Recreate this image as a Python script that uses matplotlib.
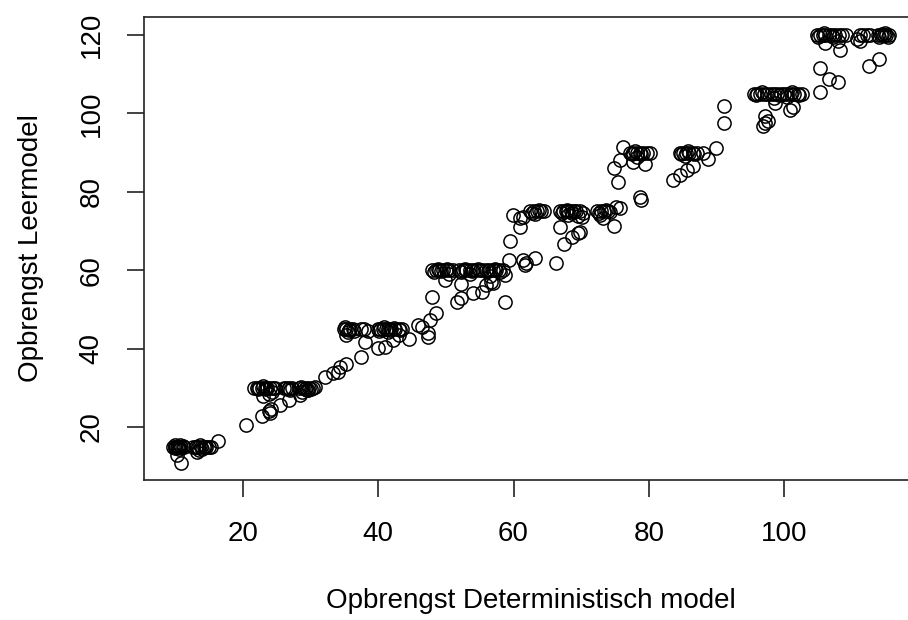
"""
Scatter of yield: deterministic model vs. learning model (R base-graphics look).
Saves out.png (908x620).
"""

import matplotlib
matplotlib.use("Agg")
import matplotlib.pyplot as plt

OUTPUT_PATH = "out.png"

# Opbrengst Deterministisch model (x) and Opbrengst Leermodel (y)
det_model = [
    # ~15
    9.6, 9.9, 10.2, 10.5, 10.8, 11.1, 10.0, 10.6, 11.3, 10.2, 10.9,
    12.6, 13.0, 13.4, 13.8, 14.2, 14.6, 15.0, 15.3, 13.2, 13.5, 14.0, 16.3,
    10.0, 10.4, 10.7, 13.1, 13.7, 14.4,
    20.4,
    # ~30
    21.6, 22.0, 22.4, 22.8, 23.2, 23.6, 24.0, 24.4, 24.7, 23.0, 23.8, 24.3,
    26.0, 26.4, 26.8, 27.2, 27.0,
    28.3, 28.8, 29.3, 29.8, 30.3, 30.6, 28.7, 29.5,
    22.2, 23.0, 23.4, 26.6, 28.6, 29.1, 30.0,
    22.8, 23.8, 24.2, 24.0, 25.5, 26.8, 28.4, 29.6, 32.1, 33.3, 34.0, 34.4, 35.3, 37.4,
    # ~45
    34.9, 35.3, 35.8, 36.2, 35.5, 35.3, 36.4, 37.4, 37.9, 38.5, 38.0,
    39.9, 40.3, 40.7, 41.1, 41.5, 41.9, 42.5, 43.0, 43.5, 40.0, 41.0, 42.2, 43.0, 41.5, 44.6,
    35.1, 35.6, 40.1, 40.9, 41.7, 42.3, 43.2,
    45.9, 46.4, 47.4, 47.4, 47.7, 48.6, 47.9,
    # ~60
    48.0, 48.5, 49.0, 49.5, 50.0, 50.5, 51.0, 49.9, 50.5,
    52.0, 52.5, 53.0, 53.5, 54.0, 54.5, 55.0, 55.4, 52.3, 53.5,
    55.9, 56.4, 56.9, 57.4, 57.9, 58.4, 57.0, 58.7, 56.5,
    48.3, 48.8, 49.3, 50.2, 52.3, 52.8, 53.8, 54.8, 56.2, 57.2, 58.0,
    51.6, 52.2, 54.0, 55.3, 56.0, 56.6, 58.8, 59.3, 59.5,
    # ~75
    59.9, 61.0, 61.0, 61.4, 62.5, 63.0, 63.5, 64.0, 64.5, 63.2,
    61.4, 61.7, 61.9, 63.2, 66.3,
    66.9, 67.3, 67.7, 68.1, 68.5, 68.9, 69.3, 69.8, 70.3, 68.0, 69.5,
    62.8, 63.7, 67.1, 67.9, 68.7, 72.6, 73.6,
    66.9, 67.4, 68.6, 69.8, 70.1, 69.5,
    72.4, 72.9, 73.4, 73.9, 74.3, 73.2, 72.8, 74.9, 75.2, 75.7, 78.7, 78.9,
    # ~90
    76.2, 75.7, 74.9, 75.5,
    77.2, 77.7, 78.2, 78.7, 79.2, 79.7, 80.2, 77.7, 79.4, 78.3,
    84.6, 85.0, 85.5, 86.0, 86.5, 87.1, 85.3,
    77.5, 78.0, 78.9, 84.8, 85.8, 86.7,
    83.6, 84.6, 85.6, 86.6, 88.0, 88.7, 90.0,
    # ~105
    91.1, 91.1,
    95.6, 96.0, 96.5, 97.0, 97.5, 98.0, 98.5, 99.0, 99.5, 100.0, 100.5, 101.0,
    101.5, 102.0, 102.7, 98.5, 100.5,
    95.8, 96.7, 99.2, 101.2, 102.2,
    98.7, 100.9, 101.3, 97.2, 97.2, 96.9, 97.6,
    # ~120
    105.3, 106.6, 108.0, 105.3,
    104.9, 105.3, 105.7, 106.1, 106.6, 107.1, 107.6, 108.1, 108.6, 109.2, 106.0, 108.3, 107.9,
    105.0, 105.9, 107.3,
    110.8, 111.2, 111.7, 112.2, 112.7, 111.2,
    113.9, 114.3, 114.7, 115.1, 115.5,
    114.0, 114.9, 115.3, 114.5,
    112.5, 114.1,
]

leer_model = [
    # ~15
    15, 15, 15, 15, 15, 15.2, 14.6, 14.3, 14.8, 12.9, 10.9,
    15, 15, 15, 15, 15, 15, 15, 15, 13.6, 14.2, 14.5, 16.5,
    15.4, 14.8, 15.3, 14.8, 15.3, 14.8,
    20.5,
    # ~30
    30, 30, 30, 30, 30, 30, 30, 30, 30, 27.9, 28.5, 29.0,
    30, 30, 30, 30, 29.4,
    30, 30, 30, 30, 30, 30.3, 29.0, 29.4,
    29.6, 30.4, 29.6, 29.7, 30.3, 29.7, 29.8,
    22.8, 24.0, 24.5, 23.6, 25.6, 26.9, 28.2, 29.4, 32.8, 33.8, 34.1, 35.3, 36.2, 37.9,
    # ~45
    45, 45, 45, 45, 44.2, 43.5, 44.5, 45, 45, 44.6, 41.8,
    45, 45, 45, 45, 45, 45, 45, 45, 45, 40.1, 40.5, 42.2, 43.5, 44.2, 42.4,
    45.4, 44.7, 44.6, 45.4, 44.7, 45.3, 44.7,
    46.0, 45.4, 44.0, 43.0, 47.3, 49.0, 53.2,
    # ~60
    60, 60, 60, 60, 60, 60, 60, 57.5, 59.0,
    60, 60, 60, 60, 60, 60, 60, 60, 56.5, 59.0,
    60, 60, 60, 60, 60, 60, 56.7, 58.9, 58.5,
    59.6, 60.4, 59.7, 60.3, 59.6, 60.4, 59.7, 60.3, 59.7, 60.3, 59.6,
    52.0, 52.8, 54.2, 54.5, 56.2, 57.0, 52.0, 62.6, 67.5,
    # ~75
    74.1, 73.2, 71.1, 73.6, 75, 75, 75, 75, 75, 74.4,
    62.6, 61.3, 61.8, 63.0, 61.8,
    75, 75, 75, 75, 75, 75, 75, 75, 74.6, 74.0, 73.8,
    74.6, 75.4, 74.6, 75.4, 74.6, 74.6, 75.3,
    70.9, 66.7, 68.5, 69.8, 73.6, 69.5,
    75, 75, 75, 75, 74.8, 73.2, 74.0, 71.3, 76.2, 75.8, 78.7, 77.9,
    # ~90
    91.5, 88.1, 86.2, 82.6,
    90, 90, 90, 90, 90, 90, 90, 87.7, 87.1, 89.0,
    90, 90, 90, 90, 90, 90, 89.2,
    89.6, 90.4, 89.6, 89.6, 90.4, 89.6,
    83.0, 84.3, 85.6, 86.7, 90.0, 88.4, 91.2,
    # ~105
    101.9, 97.6,
    105, 105, 105, 105, 105, 105, 105, 105, 105, 105, 105, 105,
    105, 105, 105, 104.0, 104.3,
    104.6, 105.4, 104.6, 105.4, 104.6,
    102.7, 100.9, 101.7, 99.3, 97.6, 96.8, 98.0,
    # ~120
    111.7, 108.7, 108.1, 105.5,
    120, 120, 120, 120, 120, 120, 120, 120, 120, 120, 118.0, 116.2, 118.5,
    119.6, 120.4, 119.6,
    119.0, 120, 120, 120, 120, 118.5,
    120, 120, 120, 120, 120,
    119.6, 120.4, 119.6, 120.3,
    112.0, 114.0,
]

x_ticks = [20, 40, 60, 80, 100]
y_ticks = [20, 40, 60, 80, 100, 120]


def main() -> None:
    plt.rcParams["font.family"] = ["Liberation Sans", "DejaVu Sans"]

    W, H = 908, 620
    fig = plt.figure(figsize=(W / 100, H / 100), dpi=100)

    # plot region in pixels (right edge runs slightly past the image, like the crop)
    left, right, top, bottom = 144, 918, 17, 480
    ax = fig.add_axes([left / W, (H - bottom) / H, (right - left) / W, (bottom - top) / H])

    ax.plot(det_model, leer_model, "o", mfc="none", mec="black", ms=9.5, mew=1.1)

    ax.set_xlim(5.36, 119.8)
    ax.set_ylim(6.48, 124.6)
    ax.set_xticks(x_ticks)
    ax.set_yticks(y_ticks)

    for s in ax.spines.values():
        s.set_linewidth(1.2)
        s.set_color("#222222")

    ax.tick_params(axis="both", direction="out", length=12.2, width=1.2,
                   color="#222222", labelsize=20)
    ax.tick_params(axis="x", pad=17)
    ax.tick_params(axis="y", pad=16, labelrotation=90)
    for lab in ax.get_yticklabels():
        lab.set_va("center")

    fig.text(531 / W, 1 - 601 / H, "Opbrengst Deterministisch model",
             ha="center", va="center", fontsize=20)
    fig.text(31 / W, 1 - 248.5 / H, "Opbrengst Leermodel",
             ha="center", va="center", rotation=90, fontsize=20)

    fig.savefig(OUTPUT_PATH, dpi=100)


if __name__ == "__main__":
    main()
